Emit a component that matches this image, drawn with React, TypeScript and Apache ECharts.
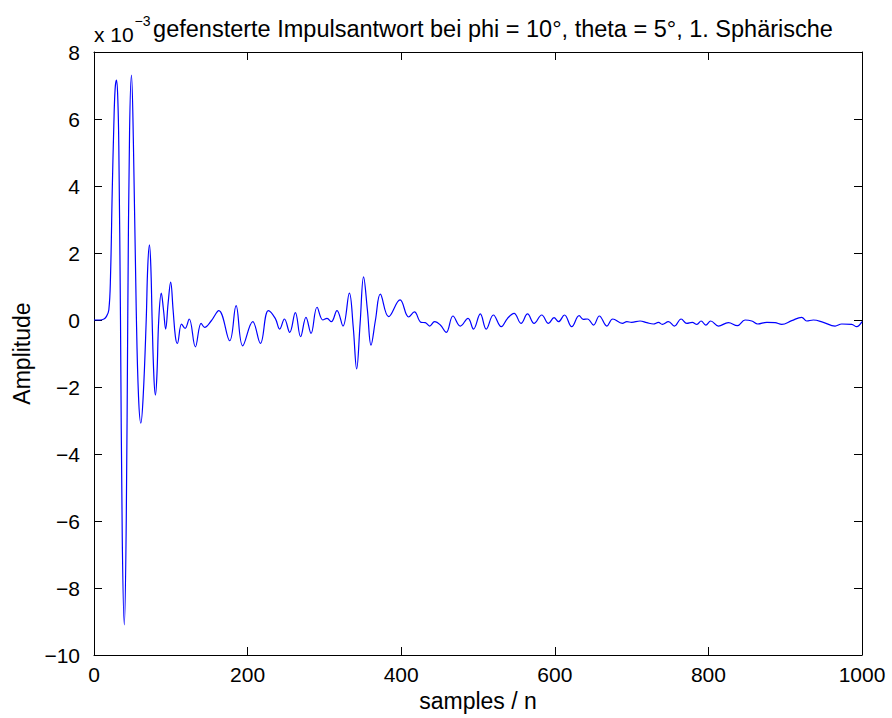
import React, { useEffect, useRef } from "react";
import * as echarts from "echarts";

// sample index n
const sampleIdx: number[] = [
  0, 8, 13, 16, 19.3, 21.5, 23.7, 25.8, 27.5, 29.3, 31, 32.3, 34.5, 36.8, 39.5, 42, 44, 46.3, 48.8, 51.3,
  55, 58, 61, 64, 68, 70, 72.2, 74, 75.7, 78, 80, 82, 84.3, 87.6, 90.5, 93.3, 96.5, 99.8, 103, 106,
  108.5, 114, 118.6, 124, 132, 139.5, 144, 152.5, 162.5, 176.7, 185, 193.6, 206.7, 216.7, 227, 236, 241.8, 248, 254.8, 262.2,
  269, 276, 282.6, 290.4, 298, 303.4, 309, 316.4, 324.2, 332.5, 337.5, 342, 346.5, 351, 356, 360.7, 366.5, 372.8, 383.6, 398.5,
  409.7, 417.2, 425.8, 431.4, 437, 443.5, 451, 458.7, 467.4, 477, 487, 494.2, 503, 510.7, 520, 530.3, 538.5, 547, 556, 564.5,
  573, 583, 591.8, 599, 604.8, 612.6, 622, 631.7, 637, 642.6, 650.4, 658, 667.8, 675.5, 688, 693.8, 700, 711, 719.8, 728.4,
  735, 740, 748, 755.7, 764.5, 771.9, 779, 785, 790.5, 796.6, 803, 813, 826, 837.7, 847.7, 856.5, 864.3, 876, 886.8, 895.5,
  908.5, 921.5, 928, 936.6, 949.6, 964.9, 973.6, 986.6, 993, 1000,
];

// amplitude in units of 1e-3
const amplitude: number[] = [
  0, 0, 0.03, 0.1, 0.3, 1.3, 3.8, 5.8, 6.9, 7.16, 6.6, 5.2, 0.0, -6.5, -9.1, -6.0, 0.2, 5.6, 7.31, 5.3,
  0.3, -2.3, -3.08, -2.3, 0.0, 1.6, 2.24, 1.6, 0.0, -1.7, -2.24, -1.6, 0.0, 0.8, 0.3, -0.27, 0.5, 1.13, 0.3, -0.5,
  -0.7, -0.12, -0.25, 0.03, -0.8, -0.1, -0.22, -0.03, 0.28, -0.62, 0.43, -0.77, -0.05, -0.7, 0.28, 0.05, -0.27, 0.03, -0.37, 0.22,
  -0.5, 0.08, -0.4, 0.38, 0.0, 0.05, -0.05, 0.28, -0.18, 0.8, -0.2, -1.46, -0.1, 1.29, 0.3, -0.75, 0.0, 0.77, 0.1, 0.6,
  0.09, 0.24, -0.07, -0.08, -0.18, -0.05, -0.15, -0.37, 0.12, -0.18, 0.05, -0.27, 0.18, -0.27, 0.15, -0.2, 0.05, 0.2, -0.1, 0.18,
  -0.1, 0.15, -0.1, 0.07, -0.05, 0.15, -0.2, 0.13, 0.02, 0.03, -0.15, 0.12, -0.18, 0.03, -0.1, -0.05, -0.07, -0.03, -0.08, -0.12,
  -0.07, -0.13, -0.05, -0.18, 0.03, -0.1, -0.07, -0.13, -0.03, -0.15, -0.03, -0.18, -0.08, -0.17, 0.0, -0.03, -0.12, -0.07, -0.08, -0.13,
  -0.02, 0.08, -0.03, 0.0, -0.07, -0.18, -0.12, -0.13, -0.2, -0.05,
];

const xTicks = { min: 0, max: 1000, interval: 200 };
const yTicks = { min: -10, max: 8, interval: 2 };

const titleText = "gefensterte Impulsantwort bei phi = 10°, theta = 5°, 1. Sphärische";
const xName = "samples / n";
const yName = "Amplitude";

const FONT = "'Liberation Sans', Arial, Helvetica, sans-serif";

export default function App() {
  const ref = useRef<HTMLDivElement>(null);
  useEffect(() => {
    if (!ref.current) return;
    const chart = echarts.init(ref.current, null, { renderer: "svg" });
    const data = sampleIdx.map((n, i) => [n, amplitude[i]]);
    const fmtY = (v: number) => (v < 0 ? "\u2212" + Math.abs(v) : String(v));
    const fmtX = (v: number) => String(v);
    const tickStyle = { show: true, inside: true, length: 8, lineStyle: { color: "#000", width: 1 } };
    const axisLine = { show: true, onZero: false, lineStyle: { color: "#000", width: 1 } };
    chart.setOption({
      animation: false,
      backgroundColor: "#fff",
      textStyle: { fontFamily: FONT },
      grid: { left: 94, right: 30, top: 52, bottom: 63 },
      xAxis: [
        {
          type: "value",
          ...xTicks,
          name: xName,
          nameLocation: "middle",
          nameGap: 33,
          nameTextStyle: { fontSize: 23, color: "#000", fontFamily: FONT },
          axisLine,
          axisTick: tickStyle,
          axisLabel: { fontSize: 21, color: "#000", margin: 9, fontFamily: FONT, formatter: fmtX },
          splitLine: { show: false },
        },
        {
          type: "value",
          position: "top",
          ...xTicks,
          axisLine,
          axisTick: tickStyle,
          axisLabel: { show: false },
          splitLine: { show: false },
        },
      ],
      yAxis: [
        {
          type: "value",
          ...yTicks,
          name: yName,
          nameLocation: "middle",
          nameGap: 60,
          nameTextStyle: { fontSize: 23, color: "#000", fontFamily: FONT },
          axisLine,
          axisTick: tickStyle,
          axisLabel: { fontSize: 21, color: "#000", margin: 14, fontFamily: FONT, formatter: fmtY },
          splitLine: { show: false },
        },
        {
          type: "value",
          position: "right",
          ...yTicks,
          axisLine,
          axisTick: tickStyle,
          axisLabel: { show: false },
          splitLine: { show: false },
        },
      ],
      graphic: [
        {
          type: "text",
          x: 493,
          y: 29,
          style: {
            text: titleText,
            fill: "#000",
            font: `23.5px ${FONT}`,
            textAlign: "center",
            textVerticalAlign: "middle",
          },
          z: 10,
        },
        {
          type: "text",
          x: 94,
          y: 34,
          style: {
            text: "x 10",
            fill: "#000",
            font: `21px ${FONT}`,
            textAlign: "left",
            textVerticalAlign: "middle",
          },
        },
        {
          type: "text",
          x: 134.5,
          y: 21,
          style: {
            text: "\u22123",
            fill: "#000",
            font: `14px ${FONT}`,
            textAlign: "left",
            textVerticalAlign: "middle",
          },
        },
      ],
      series: [
        {
          type: "line",
          data,
          xAxisIndex: 0,
          yAxisIndex: 0,
          showSymbol: false,
          smooth: 0.4,
          lineStyle: { color: "#0000ff", width: 1.2 },
          itemStyle: { color: "#0000ff" },
        },
      ],
    });
    return () => chart.dispose();
  }, []);
  return <div ref={ref} style={{ position: "fixed", left: 0, top: 0, width: 892, height: 718 }} />;
}
